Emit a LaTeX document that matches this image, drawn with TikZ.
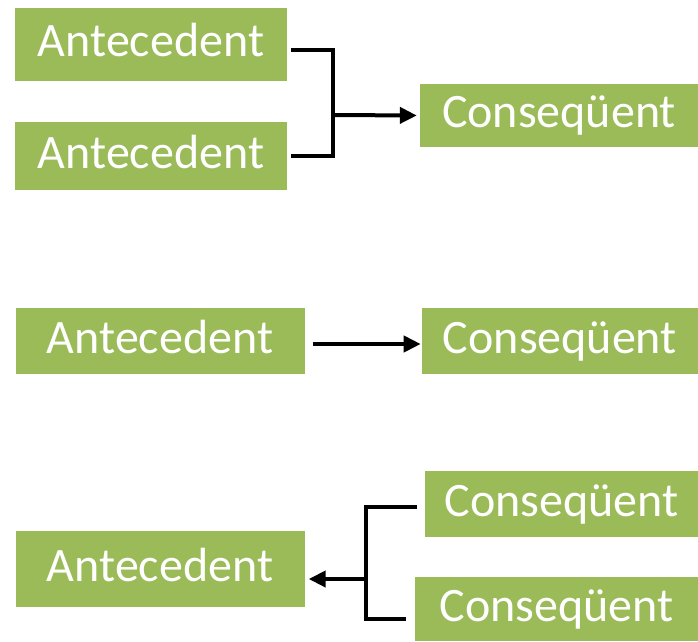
\documentclass[tikz,border=0pt]{standalone}
\usepackage{fontspec}
\setmainfont{Carlito}
\usetikzlibrary{positioning, arrows.meta}
\definecolor{leafgreen}{HTML}{9BBB59}
\tikzset{
	rulebox/.style={rectangle, fill=leafgreen, text=white, inner sep=0pt, text height=33pt, text depth=9pt, font=\fontsize{48}{52}\selectfont},
	antbox/.style={rulebox, minimum width=272pt},
	conbox/.style={rulebox, minimum width=278pt},
	wire/.style={line width=4pt, black},
}

\begin{document}
\begin{tikzpicture}[x=1pt, y=-1pt]
		\useasboundingbox (0,0) rectangle (698,641);
		
		% two antecedents, one consequent
		\node (ante1) [antbox, minimum height=73pt] at (151,44.5) {Antecedent};
		
		\node (ante2) [antbox, minimum height=68pt, below=41pt of ante1] {Antecedent};
		
		\node (cons1) [conbox, minimum height=63pt] at (559,115.5) {Conseq\"uent};
		
		% one to one
		\node (ante3) [antbox, minimum width=289pt, minimum height=66pt] at (160,341) {Antecedent};
		
		\node (cons2) [conbox, minimum width=276pt, minimum height=66pt, right=117pt of ante3] {Conseq\"uent};
		
		% one antecedent, two consequents
		\node (ante4) [antbox, minimum width=289pt, minimum height=76pt] at (160,569) {Antecedent};
		
		\node (cons3) [conbox, minimum width=273pt, minimum height=66pt] at (561.5,504) {Conseq\"uent};
		
		\node (cons4) [conbox, minimum width=283pt, minimum height=64pt] at (556.5,609) {Conseq\"uent};
		
		\coordinate (joinA) at (333,115);
		\coordinate (joinB) at (366,579);
		
		\begin{scope}[wire, >={Triangle[length=17pt, width=16pt]}]
			\draw ([xshift=4pt, yshift=-5.5pt]ante1.east) -| (joinA);
			\draw ([xshift=4pt]ante2.east) -| (joinA);
			\draw [->, shorten >=3pt] (joinA) -- (cons1.west);
			\draw [->, shorten >=1pt] ([xshift=8pt, yshift=-3pt]ante3.east) -- ([yshift=-3pt]cons2.west);
			\draw ([xshift=-8pt, yshift=-3pt]cons3.west) -| (joinB);
			\draw ([xshift=-9pt, yshift=-10pt]cons4.west) -| (joinB);
			\draw [->] (joinB) -- ([xshift=4pt, yshift=-10pt]ante4.east);
		\end{scope}
	\end{tikzpicture}
\end{document}
